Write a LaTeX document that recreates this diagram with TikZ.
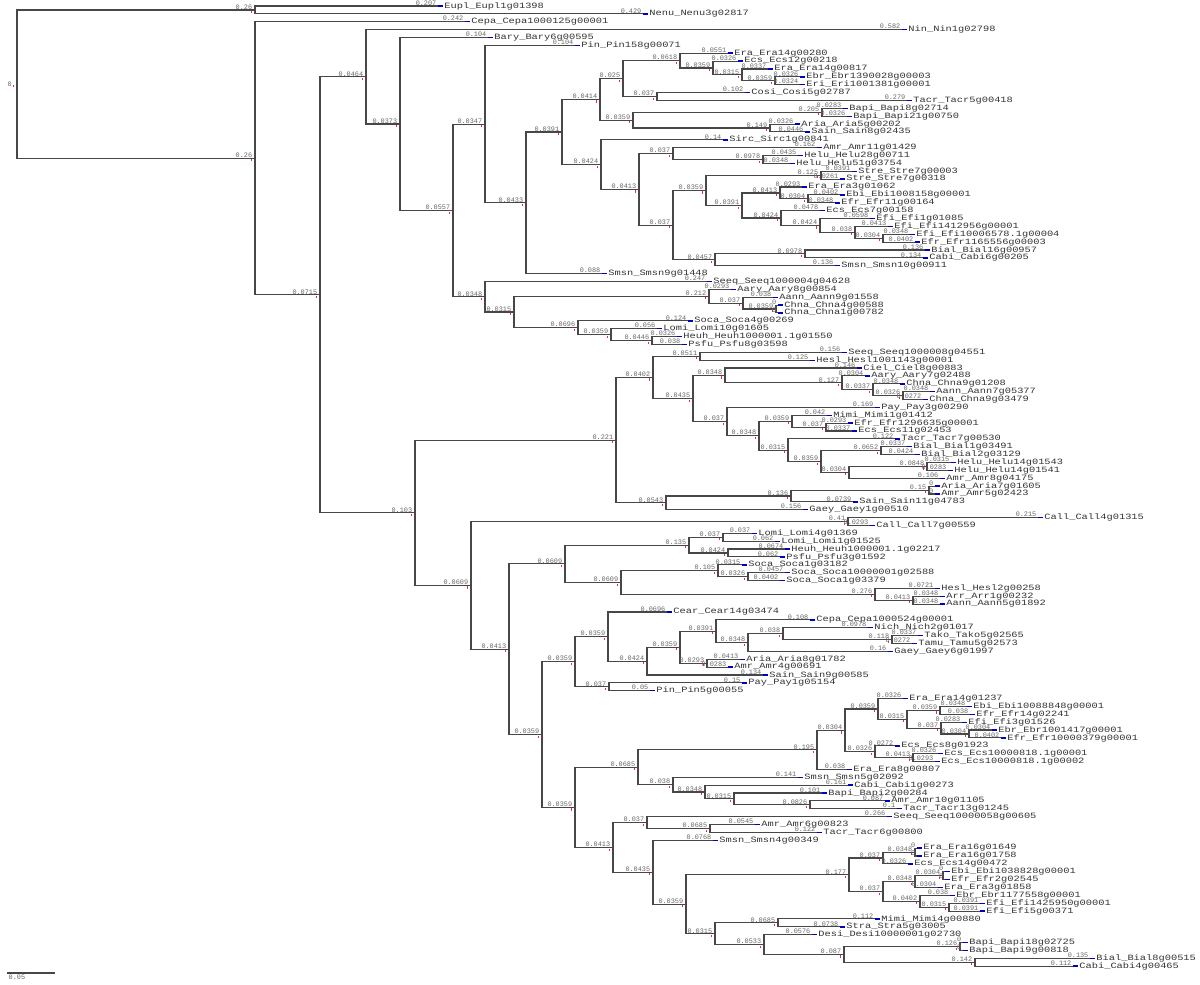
\documentclass[tikz,border=0pt]{standalone}
\usepackage{fontspec}
\usepackage{graphicx}
\setmonofont{Liberation Mono}
\usetikzlibrary{calc}

% internal node: parent, name, x, y, branch length
\newcommand{\cladenode}[5]{%
  \coordinate (#2) at (#3,#4);
  \draw[branch] (#1) |- (#2);
  \fill[knot] ([xshift=-2.2pt,yshift=-0.6pt]#2) rectangle ++(0.7pt,-1.2pt);
  \node[blen] (#2-bl) at ([xshift=-1.2pt]#2) {#5};
}
% tip: parent, name, x, y, branch length, gene
\newcommand{\leafnode}[6]{%
  \node[taxon] (#2) at (#3,#4) {\scalebox{1}[0.78]{#6}};
  \draw[branch] (#1) |- (#2.west);
  \draw[tip] ([xshift=-3pt]#2.west) -- (#2.west);
  \node[blen] (#2-bl) at ([xshift=-3.4pt]#2.west) {#5};
}

\begin{document}
\begin{tikzpicture}[x=0.02cm,y=-0.02cm,
branch/.style={draw=black!72,line width=0.6pt},
taxon/.style={anchor=west,inner ysep=0pt,inner xsep=0.6pt,font={\fontsize{5.9}{6}\selectfont\ttfamily},text=black!80},
blen/.style={anchor=south east,inner sep=0.2pt,font={\fontsize{3.9}{4}\selectfont\ttfamily},text=black!60},
tip/.style={draw=blue!75!black,line width=0.8pt},
knot/.style={fill=red!85}]
\useasboundingbox (0,0) rectangle (1200,984);

% root
\coordinate (root) at (17,84.2);
\fill[knot] ([xshift=-2.2pt,yshift=-0.6pt]root) rectangle ++(0.7pt,-1.2pt);
\node[blen,anchor=east] (root-bl) at ([xshift=-2.6pt]root) {0};

% clades
\cladenode{root}{na}{255}{10}{0.26}
\cladenode{root}{nb}{255}{158.3}{0.26}
\cladenode{nb}{nc}{320}{294.8}{0.0715}
\cladenode{nc}{nd}{366}{76.8}{0.0464}
\cladenode{nd}{ne}{400}{124}{0.0373}
\cladenode{ne}{nh}{453}{210.5}{0.0557}
\cladenode{nh}{ni}{485}{124.1}{0.0347}
\cladenode{ni}{nk}{526}{202.8}{0.0433}
\cladenode{nk}{nl}{562}{132}{0.0391}
\cladenode{nl}{nm}{600}{99.4}{0.0414}
\cladenode{nm}{no}{623}{78.6}{0.025}
\cladenode{no}{nq}{680}{60.6}{0.0618}
\cladenode{nq}{ns}{713}{68}{0.0359}
\cladenode{ns}{nt}{742}{74.9}{0.0315}
\cladenode{nt}{nu}{775}{80.8}{0.0359}
\cladenode{no}{nr}{657}{96.5}{0.037}
\cladenode{nm}{np}{633}{120.2}{0.0359}
\cladenode{np}{nv}{822}{112.3}{0.205}
\cladenode{np}{nw}{770}{128}{0.149}
\cladenode{nl}{nn}{601}{164.6}{0.0424}
\cladenode{nn}{nx}{639}{189.4}{0.0413}
\cladenode{nx}{ny}{673}{153.6}{0.037}
\cladenode{ny}{naa}{763}{159.5}{0.0978}
\cladenode{nx}{nz}{673}{225.1}{0.037}
\cladenode{nz}{nab}{706}{190.4}{0.0359}
\cladenode{nab}{naf}{821}{175.2}{0.125}
\cladenode{nab}{nae}{742}{205.5}{0.0391}
\cladenode{nae}{nai}{780}{193}{0.0413}
\cladenode{nai}{nag}{808}{198.9}{0.0304}
\cladenode{nae}{naj}{781}{218}{0.0424}
\cladenode{naj}{nak}{820}{225.4}{0.0424}
\cladenode{nak}{nal}{855}{232.3}{0.038}
\cladenode{nal}{nam}{883}{238.2}{0.0304}
\cladenode{nz}{nac}{715}{259.8}{0.0457}
\cladenode{nac}{nad}{805}{253.9}{0.0978}
\cladenode{nh}{nj}{485}{296.8}{0.0348}
\cladenode{nj}{nan}{514}{312}{0.0315}
\cladenode{nan}{nao}{709}{296.2}{0.212}
\cladenode{nao}{naq}{743}{303.1}{0.037}
\cladenode{naq}{nar}{776}{309}{0.0359}
\cladenode{nan}{nap}{578}{327.7}{0.0696}
\cladenode{nap}{nas}{611}{334.6}{0.0359}
\cladenode{nas}{nat}{652}{340.5}{0.0446}
\cladenode{nc}{nf}{415}{512.8}{0.103}
\cladenode{nf}{nau}{616}{440.2}{0.221}
\cladenode{nau}{naw}{653}{377.4}{0.0402}
\cladenode{naw}{nba}{700}{356.3}{0.0511}
\cladenode{naw}{nbb}{693}{398.5}{0.0435}
\cladenode{nbb}{nbc}{725}{375.4}{0.0348}
\cladenode{nbc}{nbe}{842}{382.8}{0.127}
\cladenode{nbe}{nbf}{873}{389.7}{0.0337}
\cladenode{nbf}{nbg}{903}{395.6}{0.0326}
\cladenode{nbb}{nbd}{727}{421.6}{0.037}
\cladenode{nbd}{nbh}{759}{435.7}{0.0348}
\cladenode{nbh}{nbi}{792}{421.2}{0.0359}
\cladenode{nbi}{nbk}{826}{427.1}{0.037}
\cladenode{nbh}{nbj}{788}{450.2}{0.0315}
\cladenode{nbj}{nbl}{821}{461.5}{0.0359}
\cladenode{nbl}{nbm}{881}{450.7}{0.0652}
\cladenode{nbl}{nbn}{849}{472.3}{0.0304}
\cladenode{nbn}{nbo}{927}{466.4}{0.0848}
\cladenode{nau}{nax}{666}{502.9}{0.0543}
\cladenode{nax}{nay}{791}{496}{0.136}
\cladenode{nay}{naz}{929}{490.1}{0.15}
\cladenode{nf}{nav}{471}{585.4}{0.0609}
\cladenode{nav}{nbp}{848}{521.5}{0.41}
\cladenode{nav}{nbq}{509}{649.3}{0.0413}
\cladenode{nbq}{nbr}{565}{563.9}{0.0609}
\cladenode{nbr}{nbt}{689}{545.2}{0.135}
\cladenode{nbt}{nbv}{723}{537.3}{0.037}
\cladenode{nbt}{nbw}{728}{553}{0.0424}
\cladenode{nbr}{nbu}{621}{582.5}{0.0609}
\cladenode{nbu}{nbx}{718}{570.7}{0.105}
\cladenode{nbx}{nbz}{748}{576.6}{0.0326}
\cladenode{nbu}{nby}{875}{594.3}{0.276}
\cladenode{nby}{nca}{913}{600.2}{0.0413}
\cladenode{nbq}{nbs}{542}{734.6}{0.0359}
\cladenode{nbs}{ncb}{575}{661.7}{0.0359}
\cladenode{ncb}{ncd}{608}{636.6}{0.0359}
\cladenode{ncd}{ncf}{647}{661.1}{0.0424}
\cladenode{ncf}{ncg}{680}{647.2}{0.0359}
\cladenode{ncg}{nch}{716}{631.2}{0.0391}
\cladenode{nch}{ncj}{748}{642.5}{0.0348}
\cladenode{ncj}{nck}{783}{633.7}{0.038}
\cladenode{nck}{ncl}{892}{639.6}{0.118}
\cladenode{ncg}{nci}{707}{663.2}{0.0293}
\cladenode{ncb}{nce}{609}{686.8}{0.037}
\cladenode{nbs}{ncc}{575}{807.4}{0.0359}
\cladenode{ncc}{ncm}{638}{767.3}{0.0685}
\cladenode{ncm}{nco}{817}{749.9}{0.195}
\cladenode{nco}{ncq}{845}{730.4}{0.0304}
\cladenode{ncq}{ncr}{878}{709}{0.0359}
\cladenode{ncr}{nct}{907}{719.3}{0.0315}
\cladenode{nct}{ncu}{940}{710.4}{0.0359}
\cladenode{nct}{ncv}{941}{728.1}{0.037}
\cladenode{ncv}{ncw}{969}{734}{0.0304}
\cladenode{ncq}{ncs}{875}{751.7}{0.0326}
\cladenode{ncs}{ncx}{913}{757.6}{0.0413}
\cladenode{ncm}{ncp}{673}{784.7}{0.038}
\cladenode{ncp}{ncy}{705}{792}{0.0348}
\cladenode{ncy}{ncz}{734}{798.9}{0.0315}
\cladenode{ncz}{nda}{810}{804.8}{0.0826}
\cladenode{ncc}{ncn}{613}{847.5}{0.0413}
\cladenode{ncn}{ndb}{647}{822.6}{0.037}
\cladenode{ndb}{ndd}{710}{828.5}{0.0685}
\cladenode{ncn}{ndc}{653}{872.3}{0.0435}
\cladenode{ndc}{nde}{686}{904.3}{0.0359}
\cladenode{nde}{ndf}{849}{874.8}{0.177}
\cladenode{ndf}{ndh}{883}{858}{0.037}
\cladenode{ndh}{ndj}{915}{852.1}{0.0348}
\cladenode{ndf}{ndi}{883}{891.5}{0.037}
\cladenode{ndi}{ndk}{915}{881.6}{0.0348}
\cladenode{ndk}{ndm}{943}{875.7}{0.0304}
\cladenode{ndi}{ndl}{920}{901.3}{0.0402}
\cladenode{ndl}{ndn}{949}{907.2}{0.0315}
\cladenode{nde}{ndg}{715}{933.8}{0.0315}
\cladenode{ndg}{ndo}{778}{922.9}{0.0685}
\cladenode{ndg}{ndp}{764}{944.6}{0.0533}
\cladenode{ndp}{ndq}{844}{954.4}{0.087}
\cladenode{ndq}{ndr}{960}{946.5}{0.126}
\cladenode{ndq}{nds}{975}{962.2}{0.142}

% tips
\leafnode{na}{eupl1398}{443}{6}{0.207}{Eupl\_Eupl1g01398}
\leafnode{na}{nenu2817}{648}{13.9}{0.429}{Nenu\_Nenu3g02817}
\leafnode{nb}{cepa125}{470}{21.7}{0.242}{Cepa\_Cepa1000125g00001}
\leafnode{nd}{nin2798}{907}{29.6}{0.582}{Nin\_Nin1g02798}
\leafnode{ne}{bary595}{493}{37.5}{0.104}{Bary\_Bary6g00595}
\leafnode{ni}{pin71}{580}{45.4}{0.104}{Pin\_Pin158g00071}
\leafnode{nq}{era280}{733}{53.2}{0.0551}{Era\_Era14g00280}
\leafnode{ns}{ecs218}{743}{61.1}{0.0326}{Ecs\_Ecs12g00218}
\leafnode{nt}{era817}{773}{69}{0.0337}{Era\_Era14g00817}
\leafnode{nu}{ebr3}{805}{76.8}{0.0326}{Ebr\_Ebr1390028g00003}
\leafnode{nu}{eri1}{805}{84.7}{0.0324}{Eri\_Eri1001381g00001}
\leafnode{nr}{cosi2787}{750}{92.6}{0.102}{Cosi\_Cosi5g02787}
\leafnode{nr}{tacr418}{912}{100.4}{0.279}{Tacr\_Tacr5g00418}
\leafnode{nv}{bapi2714}{848}{108.3}{0.0283}{Bapi\_Bapi8g02714}
\leafnode{nv}{bapi750}{852}{116.2}{0.0326}{Bapi\_Bapi21g00750}
\leafnode{nw}{aria202}{800}{124.1}{0.0326}{Aria\_Aria5g00202}
\leafnode{nw}{sain2435}{810}{131.9}{0.0446}{Sain\_Sain8g02435}
\leafnode{nn}{sirc841}{728}{139.8}{0.14}{Sirc\_Sirc1g00841}
\leafnode{ny}{amr1429}{822}{147.7}{0.162}{Amr\_Amr11g01429}
\leafnode{naa}{helu711}{803}{155.5}{0.0435}{Helu\_Helu28g00711}
\leafnode{naa}{helu3754}{795}{163.4}{0.0348}{Helu\_Helu51g03754}
\leafnode{naf}{stre3}{857}{171.3}{0.0391}{Stre\_Stre7g00003}
\leafnode{naf}{stre318}{845}{179.1}{0.0261}{Stre\_Stre7g00318}
\leafnode{nai}{era1062}{807}{187}{0.0293}{Era\_Era3g01062}
\leafnode{nag}{ebi8158}{845}{194.9}{0.0402}{Ebi\_Ebi1008158g00001}
\leafnode{nag}{efr164}{840}{202.8}{0.0348}{Efr\_Efr11g00164}
\leafnode{naj}{ecs158}{825}{210.6}{0.0478}{Ecs\_Ecs7g00158}
\leafnode{nak}{efi1085}{875}{218.5}{0.0598}{Efi\_Efi1g01085}
\leafnode{nal}{efi2956}{893}{226.4}{0.0413}{Efi\_Efi1412956g00001}
\leafnode{nam}{efi6578}{915}{234.2}{0.0348}{Efi\_Efi10006578.1g00004}
\leafnode{nam}{efr5556}{920}{242.1}{0.0402}{Efr\_Efr1165556g00003}
\leafnode{nad}{bial957}{930}{250}{0.136}{Bial\_Bial16g00957}
\leafnode{nad}{cabi205}{928}{257.8}{0.134}{Cabi\_Cabi6g00205}
\leafnode{nac}{smsn911}{840}{265.7}{0.136}{Smsn\_Smsn10g00911}
\leafnode{nk}{smsn1448}{607}{273.6}{0.088}{Smsn\_Smsn9g01448}
\leafnode{nj}{seeq4628}{712}{281.5}{0.247}{Seeq\_Seeq1000004g04628}
\leafnode{nao}{aary854}{736}{289.3}{0.0293}{Aary\_Aary8g00854}
\leafnode{naq}{aann1558}{778}{297.2}{0.038}{Aann\_Aann9g01558}
\leafnode{nar}{chna588}{783}{305.1}{0}{Chna\_Chna4g00588}
\leafnode{nar}{chna782}{783}{312.9}{0}{Chna\_Chna1g00782}
\leafnode{nap}{soca269}{693}{320.8}{0.124}{Soca\_Soca4g00269}
\leafnode{nas}{lomi1605}{662}{328.7}{0.056}{Lomi\_Lomi10g01605}
\leafnode{nat}{heuh1550}{682}{336.5}{0.0326}{Heuh\_Heuh1000001.1g01550}
\leafnode{nat}{psfu3598}{687}{344.4}{0.038}{Psfu\_Psfu8g03598}
\leafnode{nba}{seeq4551}{847}{352.3}{0.156}{Seeq\_Seeq1000008g04551}
\leafnode{nba}{hesl1143}{815}{360.2}{0.125}{Hesl\_Hesl1001143g00001}
\leafnode{nbc}{ciel883}{862}{368}{0.146}{Ciel\_Ciel8g00883}
\leafnode{nbe}{aary2488}{870}{375.9}{0.0304}{Aary\_Aary7g02488}
\leafnode{nbf}{chna1208}{905}{383.8}{0.0348}{Chna\_Chna9g01208}
\leafnode{nbg}{aann5377}{935}{391.6}{0.0348}{Aann\_Aann7g05377}
\leafnode{nbg}{chna3479}{928}{399.5}{0.0272}{Chna\_Chna9g03479}
\leafnode{nbd}{pay290}{880}{407.4}{0.169}{Pay\_Pay3g00290}
\leafnode{nbi}{mimi1412}{832}{415.2}{0.042}{Mimi\_Mimi1g01412}
\leafnode{nbk}{efr6635}{853}{423.1}{0.0293}{Efr\_Efr1296635g00001}
\leafnode{nbk}{ecs2453}{857}{431}{0.0337}{Ecs\_Ecs11g02453}
\leafnode{nbj}{tacr530}{900}{438.9}{0.122}{Tacr\_Tacr7g00530}
\leafnode{nbm}{bial3491}{912}{446.7}{0.0337}{Bial\_Bial1g03491}
\leafnode{nbm}{bial3129}{920}{454.6}{0.0424}{Bial\_Bial2g03129}
\leafnode{nbo}{helu1543}{956}{462.5}{0.0315}{Helu\_Helu14g01543}
\leafnode{nbo}{helu1541}{953}{470.3}{0.0283}{Helu\_Helu14g01541}
\leafnode{nbn}{amr4175}{945}{478.2}{0.106}{Amr\_Amr8g04175}
\leafnode{naz}{aria1605}{940}{486.1}{0}{Aria\_Aria7g01605}
\leafnode{naz}{amr2423}{940}{494}{0}{Amr\_Amr5g02423}
\leafnode{nay}{sain4783}{858}{501.8}{0.0739}{Sain\_Sain11g04783}
\leafnode{nax}{gaey510}{808}{509.7}{0.156}{Gaey\_Gaey1g00510}
\leafnode{nbp}{call1315}{1043}{517.6}{0.215}{Call\_Call4g01315}
\leafnode{nbp}{call559}{875}{525.4}{0.0293}{Call\_Call7g00559}
\leafnode{nbv}{lomi1369}{757}{533.3}{0.037}{Lomi\_Lomi4g01369}
\leafnode{nbv}{lomi1525}{780}{541.2}{0.062}{Lomi\_Lomi1g01525}
\leafnode{nbw}{heuh2217}{790}{549}{0.0674}{Heuh\_Heuh1000001.1g02217}
\leafnode{nbw}{psfu1592}{785}{556.9}{0.062}{Psfu\_Psfu3g01592}
\leafnode{nbx}{soca3182}{747}{564.8}{0.0315}{Soca\_Soca1g03182}
\leafnode{nbz}{soca2588}{790}{572.6}{0.0457}{Soca\_Soca10000001g02588}
\leafnode{nbz}{soca3379}{785}{580.5}{0.0402}{Soca\_Soca1g03379}
\leafnode{nby}{hesl258}{940}{588.4}{0.0721}{Hesl\_Hesl2g00258}
\leafnode{nca}{arr232}{945}{596.3}{0.0348}{Arr\_Arr1g00232}
\leafnode{nca}{aann1892}{945}{604.1}{0.0348}{Aann\_Aann5g01892}
\leafnode{ncd}{cear3474}{672}{612}{0.0696}{Cear\_Cear14g03474}
\leafnode{nch}{cepa524}{815}{619.9}{0.108}{Cepa\_Cepa1000524g00001}
\leafnode{nck}{nich1017}{873}{627.7}{0.0978}{Nich\_Nich2g01017}
\leafnode{ncl}{tako2565}{923}{635.6}{0.0337}{Tako\_Tako5g02565}
\leafnode{ncl}{tamu2573}{917}{643.5}{0.0272}{Tamu\_Tamu5g02573}
\leafnode{ncj}{gaey1997}{893}{651.3}{0.16}{Gaey\_Gaey6g01997}
\leafnode{nci}{aria1782}{745}{659.2}{0.0413}{Aria\_Aria8g01782}
\leafnode{nci}{amr691}{733}{667.1}{0.0283}{Amr\_Amr4g00691}
\leafnode{ncf}{sain585}{768}{675}{0.134}{Sain\_Sain9g00585}
\leafnode{nce}{pay5154}{747}{682.8}{0.15}{Pay\_Pay1g05154}
\leafnode{nce}{pin55}{655}{690.7}{0.05}{Pin\_Pin5g00055}
\leafnode{ncr}{era1237}{908}{698.6}{0.0326}{Era\_Era14g01237}
\leafnode{ncu}{ebi8848}{972}{706.4}{0.0348}{Ebi\_Ebi10088848g00001}
\leafnode{ncu}{efr2241}{975}{714.3}{0.038}{Efr\_Efr14g02241}
\leafnode{ncv}{efi1526}{967}{722.2}{0.0283}{Efi\_Efi3g01526}
\leafnode{ncw}{ebr1417}{997}{730}{0.0304}{Ebr\_Ebr1001417g00001}
\leafnode{ncw}{efr379}{1006}{737.9}{0.0402}{Efr\_Efr10000379g00001}
\leafnode{ncs}{ecs1923}{900}{745.8}{0.0272}{Ecs\_Ecs8g01923}
\leafnode{ncx}{ecs8181}{943}{753.7}{0.0326}{Ecs\_Ecs10000818.1g00001}
\leafnode{ncx}{ecs8182}{940}{761.5}{0.0293}{Ecs\_Ecs10000818.1g00002}
\leafnode{nco}{era807}{852}{769.4}{0.038}{Era\_Era8g00807}
\leafnode{ncp}{smsn2092}{803}{777.3}{0.141}{Smsn\_Smsn5g02092}
\leafnode{ncy}{cabi273}{853}{785.1}{0.161}{Cabi\_Cabi1g00273}
\leafnode{ncz}{bapi284}{827}{793}{0.101}{Bapi\_Bapi2g00284}
\leafnode{nda}{amr1105}{890}{800.9}{0.087}{Amr\_Amr10g01105}
\leafnode{nda}{tacr1245}{902}{808.7}{0.1}{Tacr\_Tacr13g01245}
\leafnode{ndb}{seeq605}{892}{816.6}{0.266}{Seeq\_Seeq10000058g00605}
\leafnode{ndd}{amr823}{760}{824.5}{0.0545}{Amr\_Amr6g00823}
\leafnode{ndd}{tacr800}{822}{832.4}{0.122}{Tacr\_Tacr6g00800}
\leafnode{ndc}{smsn349}{718}{840.2}{0.0768}{Smsn\_Smsn4g00349}
\leafnode{ndj}{era1649}{922}{848.1}{0}{Era\_Era16g01649}
\leafnode{ndj}{era1758}{922}{856}{0}{Era\_Era16g01758}
\leafnode{ndh}{ecs472}{913}{863.8}{0.0326}{Ecs\_Ecs14g00472}
\leafnode{ndm}{ebi8828}{950}{871.7}{0}{Ebi\_Ebi1038828g00001}
\leafnode{ndm}{efr2545}{950}{879.6}{0}{Efr\_Efr2g02545}
\leafnode{ndk}{era1858}{943}{887.4}{0.0304}{Era\_Era3g01858}
\leafnode{ndl}{ebr7558}{955}{895.3}{0.038}{Ebr\_Ebr1177558g00001}
\leafnode{ndn}{efi5950}{985}{903.2}{0.0391}{Efi\_Efi1425950g00001}
\leafnode{ndn}{efi371}{985}{911.1}{0.0391}{Efi\_Efi5g00371}
\leafnode{ndo}{mimi880}{880}{918.9}{0.112}{Mimi\_Mimi4g00880}
\leafnode{ndo}{stra3005}{845}{926.8}{0.0738}{Stra\_Stra5g03005}
\leafnode{ndp}{desi2730}{817}{934.7}{0.0576}{Desi\_Desi10000001g02730}
\leafnode{ndr}{bapi2725}{968}{942.5}{0}{Bapi\_Bapi18g02725}
\leafnode{ndr}{bapi818}{968}{950.4}{0}{Bapi\_Bapi9g00818}
\leafnode{nds}{bial515}{1095}{958.3}{0.135}{Bial\_Bial8g00515}
\leafnode{nds}{cabi465}{1078}{966.1}{0.112}{Cabi\_Cabi4g00465}

% scale bar
\coordinate (sb0) at (8,973);
\coordinate (sb1) at (54,973);
\draw[branch] (sb0) -- (sb1);
\draw[branch] ([yshift=0.8pt]sb0) -- ([yshift=-0.8pt]sb0);
\draw[branch] ([yshift=0.8pt]sb1) -- ([yshift=-0.8pt]sb1);
\node[blen,anchor=north west] (sbl) at ([yshift=-0.6pt]sb0) {0.05};
\end{tikzpicture}
\end{document}
